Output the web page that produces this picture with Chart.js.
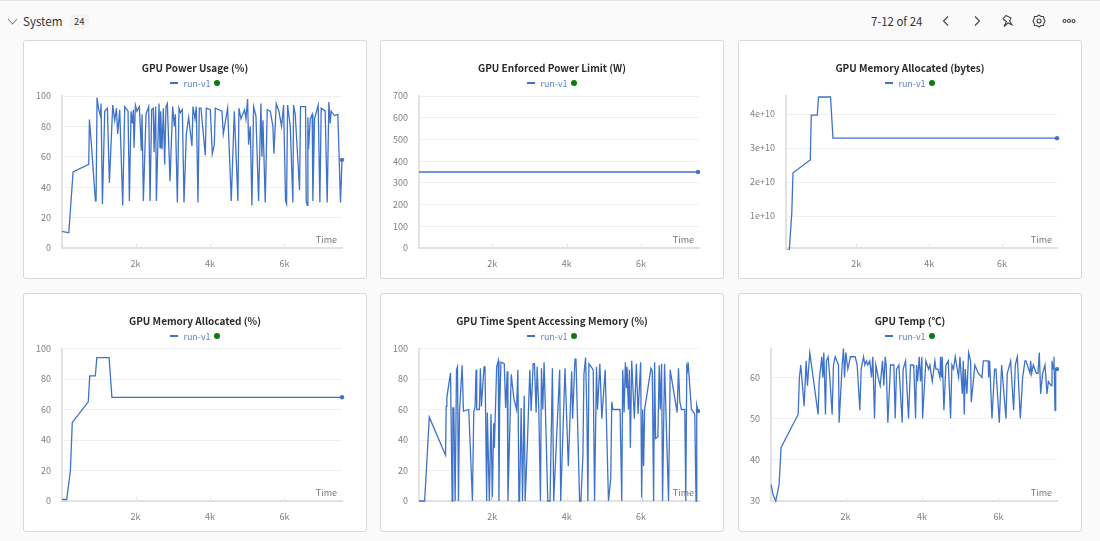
<!DOCTYPE html>
<html>
<head>
<meta charset="utf-8">
<script src="https://cdn.jsdelivr.net/npm/chart.js@4"></script>
<style>
    html, body { margin: 0; width: 1100px; height: 541px; overflow: hidden; background: #fafafa; font-family: "Noto Sans CJK JP", "Noto Sans", sans-serif; }
    .topline { position: absolute; left: 0; top: 0; width: 1100px; height: 1px; background: #e4e4e4; }
    .txt { position: absolute; white-space: nowrap; color: #333; }
    .card { position: absolute; width: 344px; height: 239px; box-sizing: border-box; background: #fff; border: 1px solid #d9d9d9; border-radius: 3px; }
    .card canvas { position: absolute; left: -1px; top: -1px; }
    .title { position: absolute; left: -1px; top: 19px; width: 344px; text-align: center; font-size: 10px; font-weight: 700; color: #2b2b2b; line-height: 16px; }
    .legend { position: absolute; left: -1px; top: 35px; width: 344px; height: 14px; display: flex; justify-content: center; align-items: center; font-size: 9px; color: #5f86c8; }
    .legend i { display: inline-block; width: 8px; height: 2px; background: #3f72c9; margin-right: 5px; }
    .legend b { display: inline-block; width: 6px; height: 6px; border-radius: 50%; background: #0b7a12; margin-left: 3px; }
    .time { position: absolute; font-size: 9px; color: #777; line-height: 12px; }
    svg { position: absolute; fill: none; stroke: #444; stroke-width: 1.1; }
</style>
</head>
<body>
<div class="topline"></div>
<svg style="left:7px;top:17px" width="11" height="9"><path d="M1 2 L5.5 7 L10 2" stroke="#888"/></svg>
<div class="txt" style="left:23px;top:12px;font-size:11.6px;line-height:18px">System</div>
<div class="txt" style="left:70px;top:14px;font-size:9.5px;line-height:14px;padding:0 4px;background:#f4f4f4;border-radius:3px">24</div>
<div class="txt" style="left:871px;top:12px;font-size:11.4px;line-height:18px">7-12 of 24</div>
<svg style="left:942px;top:15px" width="8" height="12"><path d="M6 1.5 L1.5 6 L6 10.5"/></svg>
<svg style="left:973px;top:15px" width="8" height="12"><path d="M2 1.5 L6.5 6 L2 10.5"/></svg>
<svg style="left:1001px;top:14px" width="14" height="14"><path d="M5 1.5 L10 4 L8.5 7 L11 11 L7 9 L3 12.5 L5.5 7.5 L2 5 Z"/></svg>
<svg style="left:1032px;top:14px" width="14" height="14"><path d="M7 1 L9 2.5 L11.5 2.5 L12 5 L13 7 L12 9 L11.5 11.5 L9 11.5 L7 13 L5 11.5 L2.5 11.5 L2 9 L1 7 L2 5 L2.5 2.5 L5 2.5 Z"/><circle cx="7" cy="7" r="2"/></svg>
<svg style="left:1062px;top:17px" width="14" height="8"><circle cx="2.5" cy="4" r="1.5"/><circle cx="7" cy="4" r="1.5"/><circle cx="11.5" cy="4" r="1.5"/></svg>

<script>
const seriesName = 'run-v1';
const titles = ['GPU Power Usage (%)', 'GPU Enforced Power Limit (W)', 'GPU Memory Allocated (bytes)',
    'GPU Memory Allocated (%)', 'GPU Time Spent Accessing Memory (%)', 'GPU Temp (℃)'];
const xTicks = [2000, 4000, 6000];

const percentTicks = [0, 20, 40, 60, 80, 100];
const limitTicks = [0, 100, 200, 300, 400, 500, 600, 700];
const bytesTicks = [1e10, 2e10, 3e10, 4e10];
const tempTicks = [30, 40, 50, 60];

const powerX = [27,206,322,743,761,814,922,940,966,1011,1056,1074,1110,1172,1244,1298,1387,1441,1486,1521,1575,1656,1710,1799,1835,1880,1915,1942,1960,1996,2040,2103,2157,2175,2211,2282,2354,2390,2434,2479,2497,2542,2560,2631,2658,2676,2712,2748,2783,2819,2855,2927,2998,3043,3070,3124,3168,3204,3258,3276,3303,3365,3428,3517,3544,3598,3634,3678,3714,3759,3875,3902,4010,4063,4117,4144,4323,4359,4475,4573,4654,4752,4779,4833,4931,4967,5012,5039,5084,5128,5173,5236,5307,5370,5397,5424,5486,5540,5621,5692,5719,5782,5853,5925,5979,6032,6059,6086,6158,6229,6247,6292,6408,6435,6569,6587,6614,6632,6650,6695,6748,6766,6811,6909,6954,6990,7097,7151,7196,7232,7258,7348,7437,7509,7549];
const powerY = [11,10,50,55,84.5,68,31,31,99,91,87,95,29,90,92,43,94,84,92,75,91,28,93,90,31,90,82,91,66,94,90,93,64,88,31,88,93,31,91,92,63,93,31,95,66,90,65,92,55,93,95,44,93,80,88,30,92,89,91,66,30,75,86,67,93,85,93,30,92,92,61,92,91,62,68,92,90,75,92,31,90,31,92,85,91,85,98,68,80,28,93,87,31,95,60,84,30,91,90,80,62,95,90,80,94,31,29,94,80,30,94,88,38,93,93,31,28,86,65,85,88,31,85,94,30,92,90,30,96,82,90,87,88,30,58];

const limitX = [27,7535];
const limitY = [350,350];

const bytesX = [82,164,233,266,740,767,932,967,1296,1362,7507];
const bytesY = [0,0,1.1e10,2.27e10,2.65e10,3.97e10,3.97e10,4.5e10,4.5e10,3.29e10,3.29e10];

const memPctX = [27,150,250,300,730,770,920,960,1290,1365,7549];
const memPctY = [1,1,20,51.5,65,82,82,94,94,68,68];

const accessX = [27,179,259,304,741,759,777,875,920,938,964,1000,1036,1063,1089,1116,1188,1223,1366,1465,1500,1536,1563,1581,1652,1679,1706,1777,1804,1848,1866,1920,1965,2000,2036,2054,2117,2161,2179,2197,2233,2322,2358,2402,2420,2509,2581,2652,2688,2715,2733,2777,2813,2858,2884,2947,3009,3045,3099,3134,3179,3206,3251,3295,3322,3358,3393,3429,3492,3554,3617,3652,3813,3840,3956,4045,4135,4161,4224,4251,4286,4349,4385,4438,4465,4510,4545,4572,4599,4688,4715,4751,4804,4831,4894,4947,5037,5126,5188,5215,5242,5438,5483,5510,5546,5581,5608,5626,5662,5688,5715,5751,5822,5876,5921,5992,6019,6046,6072,6099,6269,6305,6340,6367,6394,6456,6492,6519,6555,6581,6635,6742,6787,6974,7010,7046,7090,7180,7206,7233,7251,7269,7358,7448,7483,7501,7535];
const accessY = [0,0,35,55,30,62,68,84,0,61,61,0,86,88,0,58,89,59,60,0,58,62,86,60,60,87,62,88,88,0,58,0,57,0,51,35,88,92,0,60,91,90,61,85,0,83,67,60,86,0,0,61,0,69,0,40,86,59,90,90,58,88,60,0,87,60,91,60,0,0,87,0,86,0,87,23,85,54,93,93,60,0,0,30,83,94,57,0,90,87,86,0,88,60,90,54,86,0,15,65,60,60,0,86,58,91,74,88,60,86,35,92,54,90,57,91,0,60,23,60,87,85,0,91,41,42,89,60,90,0,90,0,86,58,87,65,60,60,0,88,86,91,60,57,0,63,59];

const tempX = [52,105,175,262,314,760,794,829,917,969,1004,1065,1283,1310,1379,1406,1432,1476,1502,1545,1589,1650,1685,1729,1816,1833,1912,1947,1973,2008,2060,2130,2252,2305,2375,2409,2471,2506,2549,2584,2636,2680,2715,2759,2794,2855,2907,2968,3003,3038,3064,3108,3178,3265,3300,3335,3396,3483,3509,3571,3649,3701,3771,3789,3832,3859,3885,3929,3963,3998,4016,4103,4173,4208,4269,4339,4365,4417,4470,4487,4513,4531,4575,4627,4688,4749,4784,4828,4871,4959,4994,5055,5081,5107,5133,5177,5221,5273,5290,5386,5474,5570,5605,5736,5744,5771,5832,5901,5936,6024,6085,6198,6233,6321,6399,6443,6495,6574,6635,6696,6722,6827,6844,6871,6914,6993,7036,7071,7106,7159,7220,7272,7307,7377,7403,7438,7455,7482,7500,7534];
const tempY = [34,31.5,30,34,43,51,60,63,53,64,58,66,51,59,65,60,66,51,64,65,60,51,63,65,63,49,63,67,60,66,62,65,65,63,52,62,65,63,64,63,64,60,65,50,63,60,58,64,58,65,63,49,63,63,50,62,63,49,62,64,50,63,63,62,50,63,59,65,59,65,50,64,62,63,59,64,62,62,60,65,60,65,52,63,64,50,63,62,65,60,65,56,64,51,62,56,66,64,54,63,61,60,64,64,60,64,50,62,62,49,63,50,61,64,52,63,65,50,60,64,64,61,64,61,63,61,61,66,56,61,63,56,59,58,64,62,65,52,62,62];

const lineColor = '#3f72c9';
const tickFont = { family: 'Noto Sans CJK JP', size: 9 };

// faint little marks that stand up from the x axis
const xMarks = {
    id: 'xMarks',
    afterDraw(chart) {
        const { ctx, scales: { x }, chartArea } = chart;
        ctx.save();
        ctx.strokeStyle = '#e6e6e6';
        ctx.lineWidth = 1;
        xTicks.forEach(v => {
            const px = Math.round(x.getPixelForValue(v)) + 0.5;
            ctx.beginPath();
            ctx.moveTo(px, chartArea.bottom - 4);
            ctx.lineTo(px, chartArea.bottom);
            ctx.stroke();
        });
        ctx.restore();
    }
};

function panel(i, o) {
    const card = document.createElement('div');
    card.className = 'card';
    card.style.left = o.left + 'px';
    card.style.top = o.top + 'px';
    card.innerHTML = `<canvas width="344" height="239"></canvas>
        <div class="title">${titles[i]}</div>
        <div class="legend"><i></i><span>${seriesName}</span><b></b></div>
        <div class="time" style="right:${o.right + 4}px;top:193px">Time</div>`;
    document.body.appendChild(card);

    const last = o.xs.length - 1;
    new Chart(card.querySelector('canvas'), {
        type: 'line',
        data: {
            datasets: [{
                label: seriesName,
                data: o.xs.map((x, k) => ({ x, y: o.ys[k] })),
                borderColor: lineColor,
                backgroundColor: lineColor,
                borderWidth: 1.3,
                tension: 0,
                pointRadius: c => (c.dataIndex === last ? 2.2 : 0),
                pointBorderWidth: 0,
                clip: { left: 2, right: 6, top: 1, bottom: 2 }
            }]
        },
        options: {
            responsive: false,
            animation: false,
            layout: { padding: { left: 0, top: o.plotTop, right: o.right, bottom: 0 } },
            plugins: { legend: { display: false }, tooltip: { enabled: false } },
            scales: {
                x: {
                    type: 'linear',
                    min: o.xMin,
                    max: o.xMax,
                    afterFit: s => { s.height = 31; },
                    afterBuildTicks: s => { s.ticks = xTicks.map(value => ({ value })); },
                    grid: { display: false },
                    border: { color: '#e2e2e2', width: 2 },
                    ticks: { maxRotation: 0, autoSkip: false, padding: 2, color: '#808080', font: tickFont, callback: v => (v / 1000) + 'k' }
                },
                y: {
                    min: o.yMin,
                    max: o.yMax,
                    afterFit: s => { s.width = o.plotLeft; },
                    afterBuildTicks: s => { s.ticks = o.yTicks.map(value => ({ value })); },
                    grid: { color: '#f0f0f0', lineWidth: 1, drawTicks: false },
                    border: { color: '#e2e2e2', width: 2 },
                    ticks: { autoSkip: false, padding: 11, color: '#808080', font: tickFont, callback: o.yLabel || (v => v) }
                }
            }
        },
        plugins: [xMarks]
    });
}

const bytesLabel = v => (v / 1e10) + 'e+10';

panel(0, { left: 23, top: 40, plotLeft: 39, plotTop: 56, right: 25, xs: powerX, ys: powerY, xMin: 24, xMax: 7549, yMin: 0, yMax: 100, yTicks: percentTicks });
panel(1, { left: 380, top: 40, plotLeft: 39, plotTop: 56, right: 25, xs: limitX, ys: limitY, xMin: 27, xMax: 7562, yMin: 0, yMax: 700, yTicks: limitTicks });
panel(2, { left: 738, top: 40, plotLeft: 48, plotTop: 56, right: 25, xs: bytesX, ys: bytesY, xMin: 74, xMax: 7507, yMin: 0.06e10, yMax: 4.53e10, yTicks: bytesTicks, yLabel: bytesLabel });
panel(3, { left: 23, top: 293, plotLeft: 39, plotTop: 55.5, right: 25, xs: memPctX, ys: memPctY, xMin: 24, xMax: 7549, yMin: 0, yMax: 100, yTicks: percentTicks });
panel(4, { left: 380, top: 293, plotLeft: 39, plotTop: 55.5, right: 25, xs: accessX, ys: accessY, xMin: 27, xMax: 7562, yMin: 0, yMax: 100, yTicks: percentTicks });
panel(5, { left: 738, top: 293, plotLeft: 33, plotTop: 55.5, right: 25, xs: tempX, ys: tempY, xMin: 50, xMax: 7534, yMin: 30, yMax: 67, yTicks: tempTicks });
</script>
</body>
</html>
